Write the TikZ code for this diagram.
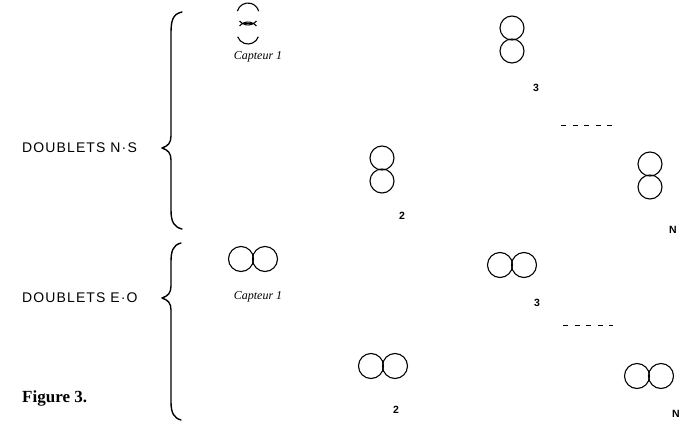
\documentclass[tikz,border=0pt]{standalone}
\usepackage{fontspec}
\setmainfont{Liberation Serif}
\setsansfont{Liberation Sans}
\newfontfamily\grpfont[LetterSpace=8]{Liberation Sans}
\begin{document}
\begin{tikzpicture}[x=1pt,y=-1pt,
  ln/.style={line width=1.1pt,black},
  brc/.style={line width=1.4pt,black,line cap=round,line join=round},
  grp/.style={font=\grpfont\fontsize{14}{16}\selectfont,anchor=west,inner sep=0pt},
  captxt/.style={font=\itshape\fontsize{12}{14}\selectfont},
  num/.style={font=\sffamily\bfseries\fontsize{10.5}{12}\selectfont},
  dots/.style={line width=1pt,dash pattern=on 5pt off 6.5pt}]
\useasboundingbox (0,0) rectangle (680,423);
% group labels
\node[grp] (ns) at (22,148) {DOUBLETS N·S};
\node[grp] (eo) at (22,298) {DOUBLETS E·O};
\node[font=\rmfamily\bfseries\fontsize{17}{19}\selectfont,anchor=west,inner sep=0pt] (fig) at (22,398) {Figure 3.};
% braces
\draw[brc] (182,12) .. controls (172,14) and (171,22) .. (171,34) -- (171,136)
  .. controls (171,143) and (168,146) .. (162,148)
  .. controls (168,150) and (171,153) .. (171,160) -- (171,210)
  .. controls (171,222) and (174,227) .. (182,229);
\draw[brc] (181,243) .. controls (173,245) and (171,251) .. (171,262) -- (171,286)
  .. controls (171,293) and (168,296) .. (162,298)
  .. controls (168,300) and (171,303) .. (171,310) -- (171,402)
  .. controls (171,413) and (174,418) .. (181,420);
% N-S doublets
% capteur 1 (faint, broken print)
\coordinate (c1t) at (248,14);
\coordinate (c1b) at (248,33);
\draw[ln] (c1t) ++(195:11) arc[start angle=195,end angle=345,radius=11];
\draw[ln] (c1t) ++(40:11) arc[start angle=40,end angle=140,radius=11];
\draw[ln] (c1b) ++(220:11) arc[start angle=220,end angle=320,radius=11];
\draw[ln] (c1b) ++(20:11) arc[start angle=20,end angle=160,radius=11];
\draw[line width=1.2pt] (244,23.5) -- (252,23.5);
\node[captxt] (l1) at (258,57) {Capteur 1};
% 3
\draw[ln] (512,28) circle[radius=12];
\draw[ln] (512,51) circle[radius=12];
\node[num] (l3) at (536,88) {3};
% 2
\draw[ln] (382,158) circle[radius=12];
\draw[ln] (382,181) circle[radius=12];
\node[num] (l2) at (402,216) {2};
% N
\draw[ln] (650,164) circle[radius=12];
\draw[ln] (650,187) circle[radius=12];
\node[num] (lN) at (673,230) {N};
\draw[dots] (561,125) -- (612,125);
% E-O doublets
\draw[ln] (241,259) circle[radius=12.5];
\draw[ln] (265,259) circle[radius=12.5];
\node[captxt] (l1b) at (258,297) {Capteur 1};
\draw[ln] (500,265) circle[radius=12.5];
\draw[ln] (524,265) circle[radius=12.5];
\node[num] (l3b) at (537,303) {3};
\draw[ln] (371,366) circle[radius=12.5];
\draw[ln] (395,366) circle[radius=12.5];
\node[num] (l2b) at (396,410) {2};
\draw[ln] (637,376) circle[radius=12.5];
\draw[ln] (661,376) circle[radius=12.5];
\node[num] (lNb) at (676,414) {N};
\draw[dots] (563,325) -- (613,325);
\end{tikzpicture}
\end{document}
